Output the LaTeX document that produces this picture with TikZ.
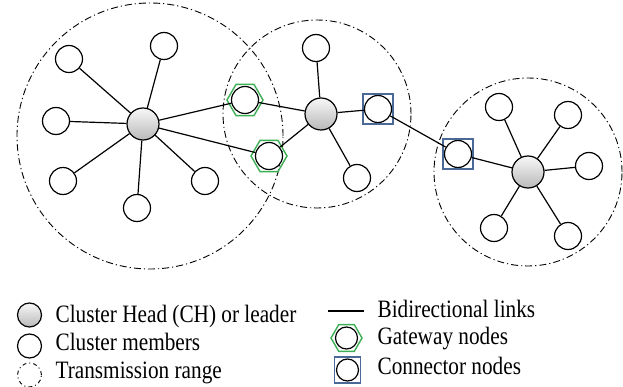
\documentclass[tikz,border=0pt]{standalone}
\usepackage{fontspec}
\usepackage{graphicx}
\setmainfont{Liberation Serif}
\usetikzlibrary{shapes.geometric}
\definecolor{gwgreen}{RGB}{60,175,85}
\definecolor{cnblue}{RGB}{75,105,150}

\begin{document}
\begin{tikzpicture}[x=1pt, y=-1pt, line width=1.2pt,
  member/.style={circle, draw, fill=white, minimum size=27pt, inner sep=0pt},
  head/.style={circle, draw, top color=gray!6, bottom color=gray!55, minimum size=32pt, inner sep=0pt},
  txrange/.style={dash pattern=on 7pt off 3pt on 1.2pt off 3pt, line width=0.9pt},
  gateway/.style={regular polygon, regular polygon sides=6, draw=gwgreen, line width=1.4pt, minimum size=36pt, inner sep=0pt},
  connector/.style={rectangle, draw=cnblue, line width=1.3pt, minimum size=30pt, inner sep=0pt},
  legtext/.style={anchor=base west, inner sep=0pt, font=\fontsize{25}{30}\selectfont}]
\useasboundingbox (0,0) rectangle (623,387);
% Draw transmission ranges
\draw[txrange] (150,136) circle[radius=133pt];
\draw[txrange] (317,114) circle[radius=94pt];
\draw[txrange] (528,172) circle[radius=94pt];
% Draw cluster heads
\node[head] (ch1) at (143,124) {};
\node[head] (ch2) at (321,114) {};
\node[head] (ch3) at (528,172) {};
% Draw cluster members
\node[member] (m11) at (164,46) {};
\node[member] (m12) at (69,59) {};
\node[member] (m13) at (56,121) {};
\node[member] (m14) at (63,181) {};
\node[member] (m15) at (137,208) {};
\node[member] (m16) at (205,181) {};
\node[member] (m21) at (316,48) {};
\node[member] (m22) at (357,178) {};
\node[member] (m31) at (499,107) {};
\node[member] (m32) at (568,115) {};
\node[member] (m33) at (589,166) {};
\node[member] (m34) at (568,236) {};
\node[member] (m35) at (494,228) {};
% Draw gateway and connector nodes
\node[member] (g1) at (245,100) {};
\node[member] (g2) at (269,156) {};
\node[member] (c1) at (378,109) {};
\node[member] (c2) at (458,154) {};
\node[gateway] at (g1) {};
\node[gateway] at (g2) {};
\node[connector] at (c1) {};
\node[connector] at (c2) {};
% Draw links
\foreach \i in {1,...,6}
    \draw (ch1) -- (m1\i);
\foreach \i in {1,2}
    \draw (ch2) -- (m2\i);
\foreach \i in {1,...,5}
    \draw (ch3) -- (m3\i);
\foreach \g in {g1,g2}
    \draw (ch1) -- (\g) -- (ch2);
\draw (ch2) -- (c1) -- (c2) -- (ch3);
% Draw legend
\node[head, minimum size=24pt] (lhead) at (29.5,315) {};
\node[member, minimum size=24pt] (lmember) at (29.5,346) {};
\draw[txrange, dash pattern=on 4pt off 3pt on 1pt off 3pt] (29.5,375) circle[radius=12pt];
\coordinate (l1) at (328,311);
\coordinate (l2) at (364,311);
\draw (l1) -- (l2);
\node[member, minimum size=22pt] (lgate) at (346.5,338) {};
\node[gateway, minimum size=31pt] at (lgate) {};
\node[member, minimum size=22pt] (lconn) at (347.5,370) {};
\node[connector, minimum size=26pt] at (lconn) {};
\node[legtext] (t1) at (55,322) {\scalebox{0.85}[1]{Cluster Head (CH) or leader}};
\node[legtext] (t2) at (55,350) {\scalebox{0.85}[1]{Cluster members}};
\node[legtext] (t3) at (55,378) {\scalebox{0.85}[1]{Transmission range}};
\node[legtext] (t4) at (377,317) {\scalebox{0.85}[1]{Bidirectional links}};
\node[legtext] (t5) at (377,344) {\scalebox{0.85}[1]{Gateway nodes}};
\node[legtext] (t6) at (377,374) {\scalebox{0.85}[1]{Connector nodes}};
\end{tikzpicture}
\end{document}
